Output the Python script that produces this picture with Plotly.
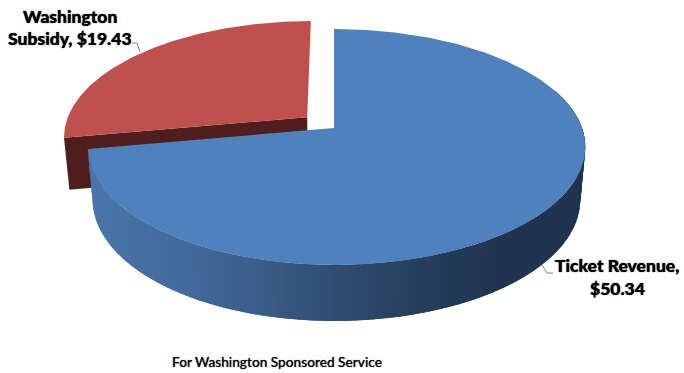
import math
import numpy as np
import plotly.graph_objects as go

# Fare recovery for one service, in dollars
categories = ["Ticket Revenue", "Washington Subsidy"]
amounts = [50.34, 19.43]
footnote = "For Washington Sponsored Service"

BLUE_TOP = "#4F81BD"
RED_TOP = "#C0504D"
RED_WALL = "#4F1F1E"
LEADER = "#7F7F7F"

# Wall shading stops: screen x -> rgb
WALL_X = [85, 180, 260, 340, 420, 500, 590]
WALL_R = [74, 66, 58, 46, 38, 31, 31]
WALL_G = [118, 106, 92, 74, 62, 52, 52]
WALL_B = [172, 156, 136, 112, 92, 78, 78]

# Perspective of the pie's top plane, in page pixels
APEX_X, APEX_Y = 334.0, 128.0
SCALE_X, SCALE_Y, TILT = 248.0, 114.9, 0.161
LEFT_SQUEEZE = 0.98
RED_SHIFT = (-0.112, 0.095)


def project(u, v, lower=False):
    u, v = np.asarray(u, float), np.asarray(v, float)
    d = 1 + TILT * v
    x = SCALE_X * u / d
    x = np.where(x < 0, x * LEFT_SQUEEZE, x)
    y = -SCALE_Y * v / d
    if lower:
        x, y = 0.98 * x, 0.98 * y + 51.6 - 7.1 * v
    return APEX_X + x, APEX_Y + y


def rim(start, stop, n=160, shift=(0.0, 0.0)):
    t = np.radians(np.linspace(start, stop, n))
    return np.sin(t) + shift[0], np.cos(t) + shift[1]


def polygon(xs, ys, color, name, width=0):
    return go.Scatter(
        x=list(xs), y=list(ys), mode="lines", fill="toself", fillcolor=color,
        line=dict(color=color, width=width), hoverinfo="skip", name=name,
        showlegend=False,
    )


sweep = 360 * amounts[0] / sum(amounts)
fig = go.Figure()

# Detached subsidy slice: cut face first, then its top
su, sv = RED_SHIFT
cx, cy = project([su], [sv])
cxl, cyl = project([su], [sv], lower=True)
edge_u, edge_v = rim(sweep, sweep, 1, RED_SHIFT)
ex, ey = project(edge_u, edge_v)
exl, eyl = project(edge_u, edge_v, lower=True)
fig.add_trace(polygon([cx[0], ex[0], exl[0], cxl[0]],
                      [cy[0], ey[0], eyl[0], cyl[0]], RED_WALL, categories[1]))
ru, rv = rim(sweep, 360, shift=RED_SHIFT)
rx, ry = project(ru, rv)
fig.add_trace(polygon(np.r_[cx, rx, cx], np.r_[cy, ry, cy], RED_TOP, categories[1]))

# Ticket revenue wall, shaded in narrow overlapping strips along the rim
edges = np.linspace(70, sweep, 150)
for a, b in zip(edges[:-1], edges[1:]):
    wu, wv = rim(a, min(b + 1.5, sweep), 5)
    tx, ty = project(wu, wv)
    bx, by = project(wu, wv, lower=True)
    mid = float(np.mean(tx))
    rgb = [np.interp(mid, WALL_X, c) for c in (WALL_R, WALL_G, WALL_B)]
    color = "rgb(%d,%d,%d)" % tuple(round(c) for c in rgb)
    fig.add_trace(polygon(np.r_[tx, bx[::-1]], np.r_[ty, by[::-1]], color, categories[0]))

# Ticket revenue top
bu, bv = rim(0, sweep, 300)
tx, ty = project(bu, bv)
ax, ay = project([0.0], [0.0])
fig.add_trace(polygon(np.r_[ax, tx, ax], np.r_[ay, ty, ay], BLUE_TOP, categories[0]))

# Leader lines
for lx, ly in (([132, 137, 140], [43, 43, 52]), ([553, 547, 542], [273, 273, 265])):
    fig.add_trace(go.Scatter(x=lx, y=ly, mode="lines", hoverinfo="skip", showlegend=False,
                             line=dict(color=LEADER, width=1)))

label_font = dict(family="Lato", size=17.5, color="#000000", weight=900,
                  shadow="0 0 1px #000000")
labels = [
    (70, 16, "Washington"),
    (70, 38, f"Subsidy, ${amounts[1]:.2f}"),
    (617, 265, f"{categories[0]},"),
    (617, 288, f"${amounts[0]:.2f}"),
]
for x, y, text in labels:
    fig.add_annotation(x=x, y=y, text=text, showarrow=False, font=label_font,
                       xanchor="center", yanchor="middle")
fig.add_annotation(x=277, y=361, text=footnote, showarrow=False,
                   font=dict(family="Lato", size=13.7, color="#000000", weight=500,
                             shadow="0 0 1px #555555"),
                   xanchor="center", yanchor="middle")

fig.update_layout(
    width=684, height=373, margin=dict(l=0, r=0, t=0, b=0),
    paper_bgcolor="white", plot_bgcolor="white", showlegend=False,
    xaxis=dict(range=[0, 684], visible=False, fixedrange=True),
    yaxis=dict(range=[373, 0], visible=False, fixedrange=True),
)
fig.write_html("out.html", config=dict(displayModeBar=False))
